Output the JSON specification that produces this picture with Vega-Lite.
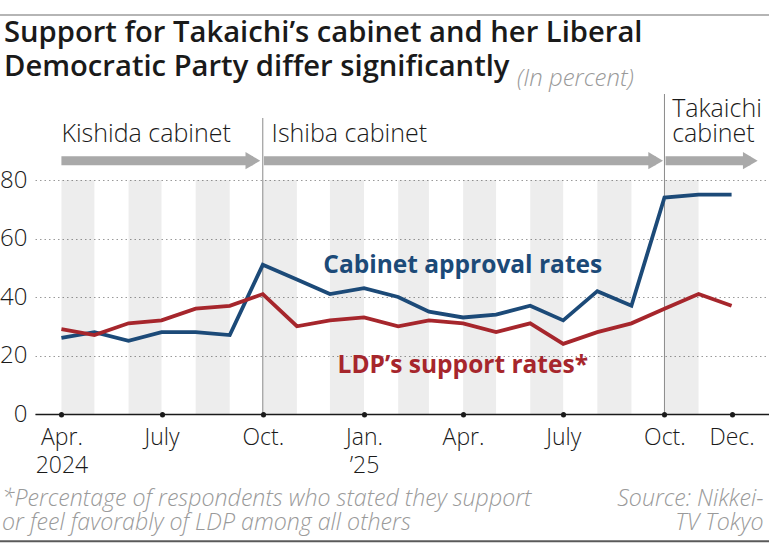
{
  "$schema": "https://vega.github.io/schema/vega-lite/v6.json",
  "width": 734,
  "height": 351,
  "autosize": {"type": "none"},
  "padding": {"left": 35, "top": 63, "right": 0, "bottom": 134},
  "background": "white",
  "config": {"view": {"stroke": null}, "font": "Open Sans"},
  "title": {
    "text": ["Support for Takaichi’s cabinet and her Liberal", "Democratic Party differ significantly"],
    "anchor": "start",
    "frame": "group",
    "font": "Open Sans",
    "fontSize": 29.2,
    "fontWeight": 600,
    "color": "#1a1a1a",
    "lineHeight": 33.5,
    "dx": -31,
    "offset": -68
  },
  "layer": [
    {
      "data": {"values": [
        {"start": "2024-04-01", "end": "2024-05-01", "top": 80},
        {"start": "2024-06-01", "end": "2024-07-01", "top": 80},
        {"start": "2024-08-01", "end": "2024-09-01", "top": 80},
        {"start": "2024-10-01", "end": "2024-11-01", "top": 80},
        {"start": "2024-12-01", "end": "2025-01-01", "top": 80},
        {"start": "2025-02-01", "end": "2025-03-01", "top": 80},
        {"start": "2025-04-01", "end": "2025-05-01", "top": 80},
        {"start": "2025-06-01", "end": "2025-07-01", "top": 80},
        {"start": "2025-08-01", "end": "2025-09-01", "top": 80},
        {"start": "2025-10-01", "end": "2025-11-01", "top": 80}
      ]},
      "mark": {"type": "rect", "color": "#000", "opacity": 0.07},
      "encoding": {
        "x": {"field": "start", "type": "temporal", "title": null},
        "x2": {"field": "end"},
        "y": {"field": "top", "type": "quantitative", "title": null},
        "y2": {"datum": 0}
      }
    },
    {
      "data": {"values": [
        {"date": "2024-10-01", "top": 101.2},
        {"date": "2025-10-01", "top": 109.4}
      ]},
      "mark": {"type": "rule", "color": "#8a8a8a", "strokeWidth": 1},
      "encoding": {
        "x": {"field": "date", "type": "temporal", "title": null},
        "y": {"field": "top", "type": "quantitative", "title": null},
        "y2": {"datum": 0}
      }
    },
    {
      "data": {"values": [
        {"start": "2024-04-01", "end": "2024-09-22", "level": 86.6},
        {"start": "2024-10-02", "end": "2025-09-23", "level": 86.6},
        {"start": "2025-10-02", "end": "2025-12-18", "level": 86.6}
      ]},
      "layer": [
        {
          "mark": {"type": "rule", "color": "#a9a9a9", "strokeWidth": 9, "strokeCap": "butt"},
          "encoding": {
            "x": {"field": "start", "type": "temporal", "title": null},
            "x2": {"field": "end"},
            "y": {"field": "level", "type": "quantitative", "title": null}
          }
        },
        {
          "mark": {"type": "point", "shape": "M-0.85,-1L0.85,0L-0.85,1Z", "size": 300, "filled": true, "color": "#a9a9a9", "opacity": 1},
          "encoding": {
            "x": {"field": "end", "type": "temporal", "title": null},
            "y": {"field": "level", "type": "quantitative", "title": null}
          }
        }
      ]
    },
    {
      "data": {"values": [
        {"date": "2024-04-01", "level": 92.9, "label": "Kishida cabinet"},
        {"date": "2024-10-09", "level": 92.9, "label": "Ishiba cabinet"},
        {"date": "2025-10-08", "level": 101.5, "label": "Takaichi"},
        {"date": "2025-10-08", "level": 92.9, "label": "cabinet"}
      ]},
      "mark": {"type": "text", "align": "left", "baseline": "alphabetic", "font": "Open Sans", "fontSize": 25, "fontWeight": 300, "color": "#1a1a1a"},
      "encoding": {
        "x": {"field": "date", "type": "temporal", "title": null},
        "y": {"field": "level", "type": "quantitative", "title": null},
        "text": {"field": "label"}
      }
    },
    {
      "data": {"values": [
        {"date": "2024-04-01", "series": "Cabinet approval rates", "value": 26},
        {"date": "2024-05-01", "series": "Cabinet approval rates", "value": 28},
        {"date": "2024-06-01", "series": "Cabinet approval rates", "value": 25},
        {"date": "2024-07-01", "series": "Cabinet approval rates", "value": 28},
        {"date": "2024-08-01", "series": "Cabinet approval rates", "value": 28},
        {"date": "2024-09-01", "series": "Cabinet approval rates", "value": 27},
        {"date": "2024-10-01", "series": "Cabinet approval rates", "value": 51},
        {"date": "2024-11-01", "series": "Cabinet approval rates", "value": 46},
        {"date": "2024-12-01", "series": "Cabinet approval rates", "value": 41},
        {"date": "2025-01-01", "series": "Cabinet approval rates", "value": 43},
        {"date": "2025-02-01", "series": "Cabinet approval rates", "value": 40},
        {"date": "2025-03-01", "series": "Cabinet approval rates", "value": 35},
        {"date": "2025-04-01", "series": "Cabinet approval rates", "value": 33},
        {"date": "2025-05-01", "series": "Cabinet approval rates", "value": 34},
        {"date": "2025-06-01", "series": "Cabinet approval rates", "value": 37},
        {"date": "2025-07-01", "series": "Cabinet approval rates", "value": 32},
        {"date": "2025-08-01", "series": "Cabinet approval rates", "value": 42},
        {"date": "2025-09-01", "series": "Cabinet approval rates", "value": 37},
        {"date": "2025-10-01", "series": "Cabinet approval rates", "value": 74},
        {"date": "2025-11-01", "series": "Cabinet approval rates", "value": 75},
        {"date": "2025-12-01", "series": "Cabinet approval rates", "value": 75},
        {"date": "2024-04-01", "series": "LDP’s support rates", "value": 29},
        {"date": "2024-05-01", "series": "LDP’s support rates", "value": 27},
        {"date": "2024-06-01", "series": "LDP’s support rates", "value": 31},
        {"date": "2024-07-01", "series": "LDP’s support rates", "value": 32},
        {"date": "2024-08-01", "series": "LDP’s support rates", "value": 36},
        {"date": "2024-09-01", "series": "LDP’s support rates", "value": 37},
        {"date": "2024-10-01", "series": "LDP’s support rates", "value": 41},
        {"date": "2024-11-01", "series": "LDP’s support rates", "value": 30},
        {"date": "2024-12-01", "series": "LDP’s support rates", "value": 32},
        {"date": "2025-01-01", "series": "LDP’s support rates", "value": 33},
        {"date": "2025-02-01", "series": "LDP’s support rates", "value": 30},
        {"date": "2025-03-01", "series": "LDP’s support rates", "value": 32},
        {"date": "2025-04-01", "series": "LDP’s support rates", "value": 31},
        {"date": "2025-05-01", "series": "LDP’s support rates", "value": 28},
        {"date": "2025-06-01", "series": "LDP’s support rates", "value": 31},
        {"date": "2025-07-01", "series": "LDP’s support rates", "value": 24},
        {"date": "2025-08-01", "series": "LDP’s support rates", "value": 28},
        {"date": "2025-09-01", "series": "LDP’s support rates", "value": 31},
        {"date": "2025-10-01", "series": "LDP’s support rates", "value": 36},
        {"date": "2025-11-01", "series": "LDP’s support rates", "value": 41},
        {"date": "2025-12-01", "series": "LDP’s support rates", "value": 37}
      ]},
      "mark": {"type": "line", "strokeWidth": 3.8, "strokeJoin": "miter", "strokeCap": "butt"},
      "encoding": {
        "x": {
          "field": "date", "type": "temporal", "title": null,
          "scale": {"type": "utc", "domain": [
            {"year": 2024, "month": 3, "date": 8, "utc": true},
            {"year": 2026, "month": 1, "date": 4, "utc": true}
          ]},
          "axis": {
            "orient": "bottom",
            "zindex": 1,
            "values": [
              {"year": 2024, "month": 4, "date": 1, "utc": true},
              {"year": 2024, "month": 7, "date": 1, "utc": true},
              {"year": 2024, "month": 10, "date": 1, "utc": true},
              {"year": 2025, "month": 1, "date": 1, "utc": true},
              {"year": 2025, "month": 4, "date": 1, "utc": true},
              {"year": 2025, "month": 7, "date": 1, "utc": true},
              {"year": 2025, "month": 10, "date": 1, "utc": true},
              {"year": 2025, "month": 12, "date": 1, "utc": true}
            ],
            "labelExpr": "utcmonth(datum.value)==3 ? (utcyear(datum.value)==2024 ? ['Apr.','2024'] : 'Apr.') : utcmonth(datum.value)==6 ? 'July' : utcmonth(datum.value)==9 ? 'Oct.' : utcmonth(datum.value)==0 ? ['Jan.','’25'] : 'Dec.'",
            "labelFont": "Open Sans",
            "labelFontSize": 23,
            "labelFontWeight": 300,
            "labelColor": "#1a1a1a",
            "labelLineHeight": 28,
            "labelPadding": 12,
            "labelOverlap": false,
            "labelFlush": false,
            "labelBound": false,
            "domainColor": "#1a1a1a",
            "domainWidth": 1.5,
            "tickColor": "#1a1a1a",
            "tickSize": 0.5,
            "tickWidth": 5,
            "tickCap": "round",
            "grid": false
          }
        },
        "y": {
          "field": "value", "type": "quantitative", "title": null,
          "scale": {"domain": [0, 116]},
          "axis": {
            "values": [0, 20, 40, 60, 80],
            "grid": true,
            "gridDash": [1.5, 3],
            "gridColor": "#9a9a9a",
            "gridWidth": 1,
            "domain": false,
            "ticks": false,
            "labelFont": "Open Sans",
            "labelFontSize": 24,
            "labelFontWeight": 300,
            "labelColor": "#1a1a1a",
            "labelPadding": 8
          }
        },
        "color": {
          "field": "series", "type": "nominal", "legend": null,
          "scale": {"domain": ["Cabinet approval rates", "LDP’s support rates"], "range": ["#1c4a78", "#a6262c"]}
        }
      }
    },
    {
      "data": {"values": [
        {"date": "2024-11-25", "level": 48.2, "series": "Cabinet approval rates", "label": "Cabinet approval rates"},
        {"date": "2024-12-08", "level": 14.0, "series": "LDP’s support rates", "label": "LDP’s support rates*"}
      ]},
      "mark": {"type": "text", "align": "left", "baseline": "alphabetic", "font": "Open Sans", "fontSize": 24.5, "fontWeight": 700},
      "encoding": {
        "x": {"field": "date", "type": "temporal", "title": null},
        "y": {"field": "level", "type": "quantitative", "title": null},
        "text": {"field": "label"},
        "color": {"field": "series", "type": "nominal", "legend": null}
      }
    },
    {
      "data": {"values": [
        {"date": "2025-05-20", "level": 112.0, "label": "(In percent)"}
      ]},
      "mark": {"type": "text", "align": "left", "baseline": "alphabetic", "font": "Open Sans", "fontSize": 24, "fontWeight": 300, "fontStyle": "italic", "color": "#9a9a9a"},
      "encoding": {
        "x": {"field": "date", "type": "temporal", "title": null},
        "y": {"field": "level", "type": "quantitative", "title": null},
        "text": {"field": "label"}
      }
    },
    {
      "data": {"values": [
        {"date": "2024-02-07", "level": -31.4, "label": "*Percentage of respondents who stated they support"},
        {"date": "2024-02-07", "level": -39.7, "label": "or feel favorably of LDP among all others"}
      ]},
      "mark": {"type": "text", "align": "left", "baseline": "alphabetic", "font": "Open Sans", "fontSize": 23.2, "fontWeight": 300, "fontStyle": "italic", "color": "#9a9a9a"},
      "encoding": {
        "x": {"field": "date", "type": "temporal", "title": null},
        "y": {"field": "level", "type": "quantitative", "title": null},
        "text": {"field": "label"}
      }
    },
    {
      "data": {"values": [
        {"date": "2025-12-30", "level": -31.4, "label": "Source: Nikkei-"},
        {"date": "2025-12-30", "level": -39.7, "label": "TV Tokyo"}
      ]},
      "mark": {"type": "text", "align": "right", "baseline": "alphabetic", "font": "Open Sans", "fontSize": 23.2, "fontWeight": 300, "fontStyle": "italic", "color": "#9a9a9a"},
      "encoding": {
        "x": {"field": "date", "type": "temporal", "title": null},
        "y": {"field": "level", "type": "quantitative", "title": null},
        "text": {"field": "label"}
      }
    },
    {
      "data": {"values": [
        {"start": "2024-02-05", "end": "2026-01-06", "level": 136.4, "edge": "top"},
        {"start": "2024-02-05", "end": "2026-01-06", "level": -43.5, "edge": "bottom"}
      ]},
      "mark": {"type": "rule", "strokeWidth": 2},
      "encoding": {
        "x": {"field": "start", "type": "temporal", "title": null},
        "x2": {"field": "end"},
        "y": {"field": "level", "type": "quantitative", "title": null},
        "stroke": {"field": "edge", "type": "nominal", "legend": null, "scale": {"domain": ["top", "bottom"], "range": ["#b5b5b5", "#5a5a5a"]}}
      }
    }
  ]
}
